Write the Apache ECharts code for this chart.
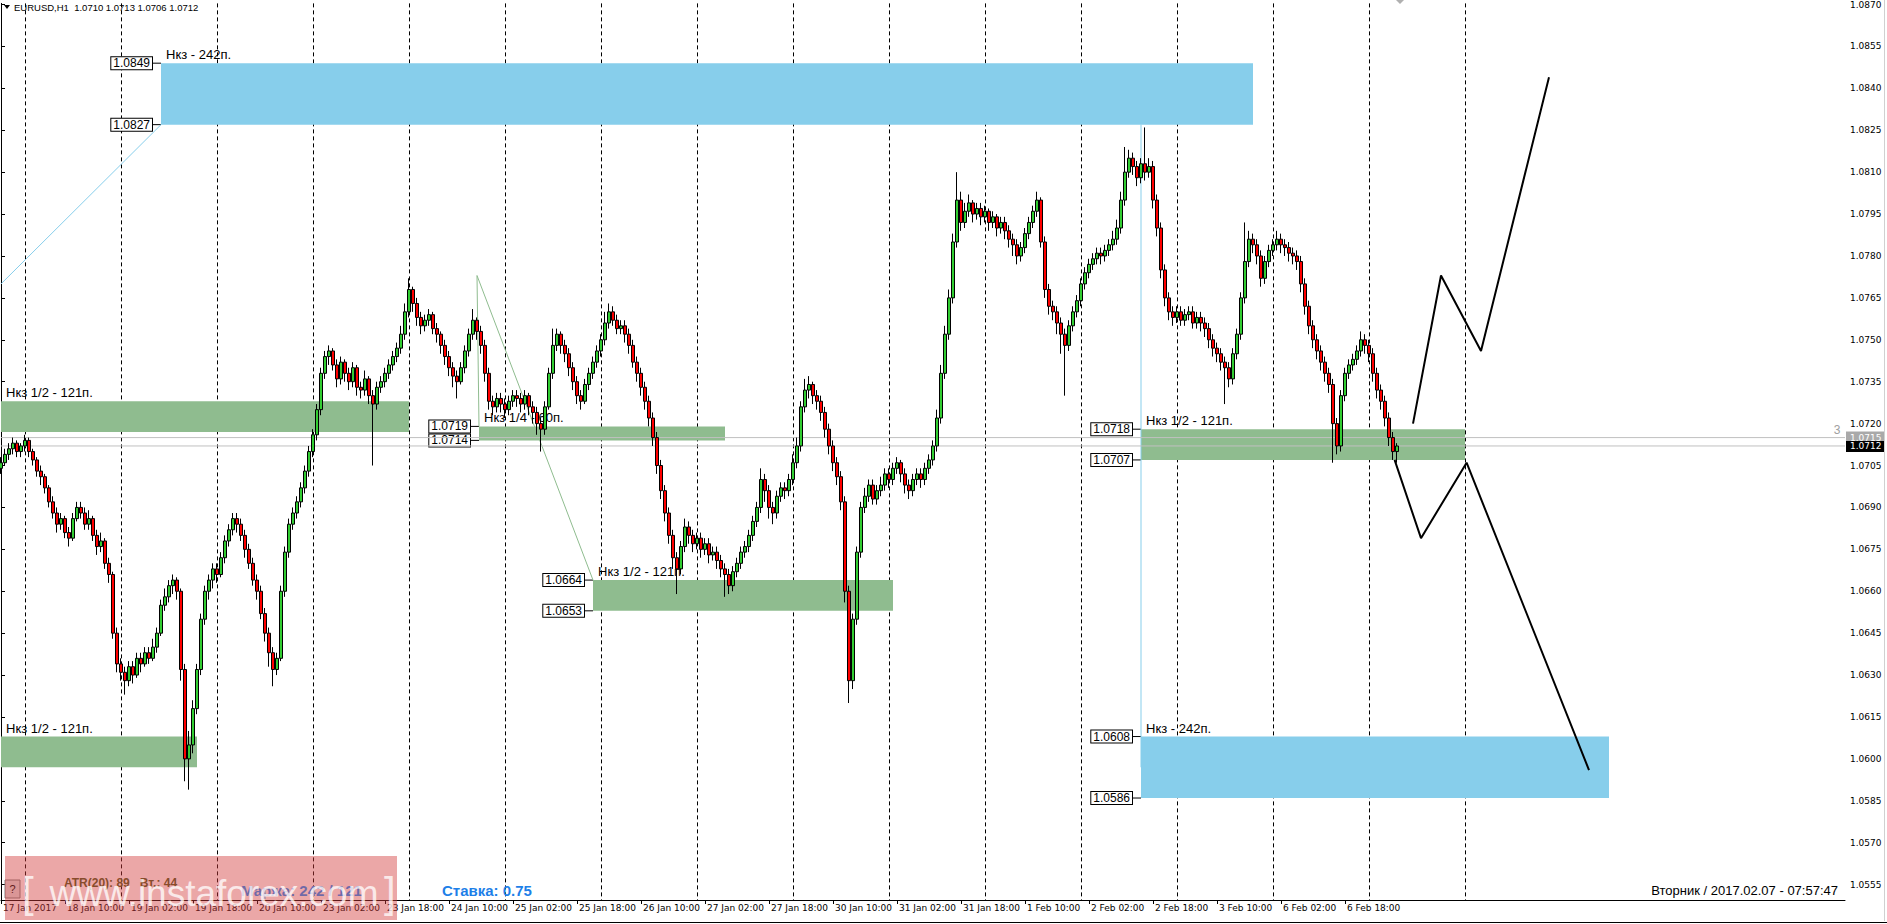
<!DOCTYPE html>
<html><head><meta charset="utf-8">
<script src="https://cdn.jsdelivr.net/npm/echarts@6/dist/echarts.min.js"></script>
<style>html,body{margin:0;padding:0;background:#fff;overflow:hidden}#c{width:1887px;height:924px}</style>
</head><body><div id="c"></div>
<script>
// ---------- DATA ----------
const days = ['17 Jan','18 Jan','19 Jan','20 Jan','23 Jan','24 Jan','25 Jan','26 Jan','27 Jan','30 Jan','31 Jan','1 Feb','2 Feb','3 Feb','6 Feb','7 Feb','8 Feb','9 Feb','10 Feb','13 Feb'];
const gridDays = ['18 Jan','19 Jan','20 Jan','23 Jan','24 Jan','25 Jan','26 Jan','27 Jan','30 Jan','31 Jan','1 Feb','2 Feb','3 Feb','6 Feb','7 Feb','8 Feb'];
const xTickLabels = ['17 Jan 2017','18 Jan 10:00','19 Jan 02:00','19 Jan 18:00','20 Jan 10:00','23 Jan 02:00','23 Jan 18:00','24 Jan 10:00','25 Jan 02:00','25 Jan 18:00','26 Jan 10:00','27 Jan 02:00','27 Jan 18:00','30 Jan 10:00','31 Jan 02:00','31 Jan 18:00','1 Feb 10:00','2 Feb 02:00','2 Feb 18:00','3 Feb 10:00','6 Feb 02:00','6 Feb 18:00'];
const yTicks = [1.0555,1.0570,1.0585,1.0600,1.0615,1.0630,1.0645,1.0660,1.0675,1.0690,1.0705,1.0720,1.0735,1.0750,1.0765,1.0780,1.0795,1.0810,1.0825,1.0840,1.0855,1.0870];
const yMin = 1.05495, yMax = 1.08704;

// [open, close, low, high] per H1 bar, from 17 Jan 18:00
const candles = [
[1.0704,1.0706,1.0702,1.0708],[1.0706,1.0709,1.0705,1.0711],[1.0709,1.0711,1.0707,1.0713],[1.0711,1.0713,1.0709,1.0715],[1.0713,1.0710,1.0708,1.0714],
[1.0710,1.0712,1.0708,1.0713],[1.0712,1.0714,1.0710,1.0716],[1.0714,1.0710,1.0708,1.0715],[1.0710,1.0707,1.0705,1.0711],[1.0707,1.0703,1.0701,1.0708],
[1.0703,1.0701,1.0698,1.0705],[1.0701,1.0697,1.0695,1.0702],[1.0697,1.0692,1.0690,1.0698],[1.0692,1.0688,1.0686,1.0694],[1.0688,1.0684,1.0681,1.0690],
[1.0684,1.0686,1.0682,1.0688],[1.0686,1.0681,1.0679,1.0687],[1.0681,1.0679,1.0676,1.0683],[1.0679,1.0686,1.0678,1.0688],[1.0686,1.0690,1.0685,1.0692],
[1.0690,1.0688,1.0686,1.0692],[1.0688,1.0684,1.0682,1.0690],[1.0684,1.0686,1.0682,1.0689],[1.0686,1.0680,1.0678,1.0687],[1.0680,1.0676,1.0673,1.0682],
[1.0676,1.0678,1.0674,1.0681],[1.0678,1.0670,1.0668,1.0679],[1.0670,1.0666,1.0663,1.0672],[1.0666,1.0645,1.0643,1.0667],[1.0645,1.0634,1.0631,1.0647],
[1.0634,1.0631,1.0628,1.0636],[1.0631,1.0628,1.0623,1.0633],[1.0628,1.0633,1.0626,1.0635],[1.0633,1.0630,1.0627,1.0635],[1.0630,1.0636,1.0629,1.0638],
[1.0636,1.0634,1.0631,1.0638],[1.0634,1.0638,1.0633,1.0640],[1.0638,1.0636,1.0634,1.0640],[1.0636,1.0640,1.0635,1.0643],[1.0640,1.0645,1.0638,1.0647],
[1.0645,1.0655,1.0644,1.0657],[1.0655,1.0658,1.0653,1.0661],[1.0658,1.0662,1.0656,1.0664],[1.0662,1.0664,1.0659,1.0666],[1.0664,1.0660,1.0657,1.0665],
[1.0660,1.0632,1.0628,1.0661],[1.0632,1.0600,1.0592,1.0634],[1.0600,1.0605,1.0589,1.0610],[1.0605,1.0618,1.0602,1.0621],[1.0618,1.0632,1.0616,1.0634],
[1.0632,1.0650,1.0630,1.0652],[1.0650,1.0660,1.0648,1.0662],[1.0660,1.0664,1.0657,1.0666],[1.0664,1.0668,1.0661,1.0670],[1.0668,1.0666,1.0663,1.0670],
[1.0666,1.0672,1.0665,1.0674],[1.0672,1.0678,1.0670,1.0680],[1.0678,1.0682,1.0676,1.0684],[1.0682,1.0686,1.0680,1.0688],[1.0686,1.0684,1.0681,1.0688],
[1.0684,1.0680,1.0678,1.0686],[1.0680,1.0675,1.0672,1.0682],[1.0675,1.0670,1.0668,1.0677],[1.0670,1.0664,1.0662,1.0672],[1.0664,1.0660,1.0657,1.0666],
[1.0660,1.0652,1.0650,1.0662],[1.0652,1.0645,1.0642,1.0654],[1.0645,1.0638,1.0633,1.0647],[1.0638,1.0632,1.0626,1.0640],[1.0632,1.0636,1.0630,1.0638],
[1.0636,1.0660,1.0635,1.0662],[1.0660,1.0674,1.0658,1.0676],[1.0674,1.0684,1.0672,1.0686],[1.0684,1.0688,1.0682,1.0690],[1.0688,1.0692,1.0686,1.0694],
[1.0692,1.0697,1.0690,1.0699],[1.0697,1.0703,1.0695,1.0705],[1.0703,1.0710,1.0701,1.0712],[1.0710,1.0716,1.0708,1.0718],[1.0716,1.0725,1.0714,1.0727],
[1.0725,1.0738,1.0723,1.0740],[1.0738,1.0744,1.0736,1.0746],[1.0744,1.0746,1.0741,1.0748],[1.0746,1.0741,1.0739,1.0747],[1.0741,1.0736,1.0733,1.0743],
[1.0736,1.0742,1.0734,1.0744],[1.0742,1.0738,1.0735,1.0743],[1.0738,1.0735,1.0732,1.0740],[1.0735,1.0740,1.0733,1.0742],[1.0740,1.0733,1.0730,1.0741],
[1.0733,1.0732,1.0729,1.0735],[1.0732,1.0736,1.0730,1.0739],[1.0736,1.0730,1.0727,1.0737],[1.0730,1.0727,1.0705,1.0732],[1.0727,1.0733,1.0725,1.0735],
[1.0733,1.0735,1.0731,1.0737],[1.0735,1.0738,1.0733,1.0740],[1.0738,1.0741,1.0736,1.0743],[1.0741,1.0744,1.0739,1.0746],[1.0744,1.0747,1.0742,1.0749],
[1.0747,1.0752,1.0745,1.0755],[1.0752,1.0760,1.0750,1.0763],[1.0760,1.0768,1.0758,1.0772],[1.0768,1.0763,1.0760,1.0769],[1.0763,1.0758,1.0755,1.0765],
[1.0758,1.0755,1.0752,1.0760],[1.0755,1.0757,1.0753,1.0759],[1.0757,1.0759,1.0755,1.0761],[1.0759,1.0754,1.0752,1.0760],[1.0754,1.0752,1.0749,1.0756],
[1.0752,1.0748,1.0745,1.0753],[1.0748,1.0744,1.0741,1.0750],[1.0744,1.0740,1.0737,1.0746],[1.0740,1.0737,1.0733,1.0742],[1.0737,1.0735,1.0729,1.0739],
[1.0735,1.0740,1.0734,1.0742],[1.0740,1.0746,1.0738,1.0748],[1.0746,1.0752,1.0744,1.0754],[1.0752,1.0757,1.0750,1.0761],[1.0757,1.0753,1.0750,1.0758],
[1.0753,1.0748,1.0745,1.0755],[1.0748,1.0738,1.0735,1.0750],[1.0738,1.0728,1.0725,1.0740],[1.0728,1.0726,1.0723,1.0730],[1.0726,1.0729,1.0724,1.0731],
[1.0729,1.0727,1.0724,1.0731],[1.0727,1.0725,1.0722,1.0729],[1.0725,1.0728,1.0723,1.0730],[1.0728,1.0730,1.0726,1.0732],[1.0730,1.0729,1.0726,1.0732],
[1.0729,1.0727,1.0724,1.0731],[1.0727,1.0730,1.0725,1.0732],[1.0730,1.0726,1.0723,1.0731],[1.0726,1.0724,1.0720,1.0728],[1.0724,1.0720,1.0716,1.0726],
[1.0720,1.0718,1.0710,1.0722],[1.0718,1.0726,1.0716,1.0728],[1.0726,1.0738,1.0725,1.0740],[1.0738,1.0748,1.0736,1.0754],[1.0748,1.0752,1.0746,1.0754],
[1.0752,1.0748,1.0745,1.0753],[1.0748,1.0745,1.0742,1.0750],[1.0745,1.0740,1.0737,1.0747],[1.0740,1.0735,1.0732,1.0742],[1.0735,1.0730,1.0727,1.0737],
[1.0730,1.0728,1.0725,1.0732],[1.0728,1.0734,1.0727,1.0736],[1.0734,1.0738,1.0732,1.0740],[1.0738,1.0742,1.0736,1.0744],[1.0742,1.0746,1.0740,1.0748],
[1.0746,1.0750,1.0744,1.0752],[1.0750,1.0756,1.0748,1.0760],[1.0756,1.0760,1.0754,1.0763],[1.0760,1.0757,1.0755,1.0762],[1.0757,1.0754,1.0752,1.0759],
[1.0754,1.0755,1.0752,1.0757],[1.0755,1.0752,1.0749,1.0757],[1.0752,1.0748,1.0745,1.0754],[1.0748,1.0742,1.0740,1.0750],[1.0742,1.0738,1.0735,1.0744],
[1.0738,1.0733,1.0730,1.0740],[1.0733,1.0728,1.0725,1.0735],[1.0728,1.0722,1.0719,1.0730],[1.0722,1.0715,1.0712,1.0724],[1.0715,1.0705,1.0702,1.0717],
[1.0705,1.0696,1.0693,1.0707],[1.0696,1.0688,1.0685,1.0698],[1.0688,1.0680,1.0677,1.0690],[1.0680,1.0672,1.0668,1.0682],[1.0672,1.0668,1.0659,1.0674],
[1.0668,1.0676,1.0666,1.0678],[1.0676,1.0683,1.0674,1.0686],[1.0683,1.0680,1.0677,1.0685],[1.0680,1.0677,1.0674,1.0682],[1.0677,1.0679,1.0675,1.0681],
[1.0679,1.0675,1.0672,1.0681],[1.0675,1.0677,1.0673,1.0679],[1.0677,1.0673,1.0670,1.0679],[1.0673,1.0674,1.0671,1.0676],[1.0674,1.0671,1.0668,1.0676],
[1.0671,1.0668,1.0665,1.0673],[1.0668,1.0666,1.0658,1.0670],[1.0666,1.0662,1.0659,1.0668],[1.0662,1.0667,1.0660,1.0669],[1.0667,1.0670,1.0665,1.0672],
[1.0670,1.0674,1.0668,1.0676],[1.0674,1.0676,1.0672,1.0678],[1.0676,1.0680,1.0674,1.0682],[1.0680,1.0685,1.0678,1.0687],[1.0685,1.0690,1.0683,1.0692],
[1.0690,1.0700,1.0688,1.0704],[1.0700,1.0696,1.0692,1.0702],[1.0696,1.0690,1.0686,1.0698],[1.0690,1.0688,1.0684,1.0692],[1.0688,1.0694,1.0686,1.0696],
[1.0694,1.0697,1.0692,1.0699],[1.0697,1.0696,1.0693,1.0699],[1.0696,1.0700,1.0694,1.0702],[1.0700,1.0706,1.0698,1.0709],[1.0706,1.0712,1.0704,1.0715],
[1.0712,1.0726,1.0710,1.0728],[1.0726,1.0732,1.0724,1.0736],[1.0732,1.0734,1.0729,1.0737],[1.0734,1.0730,1.0727,1.0735],[1.0730,1.0728,1.0725,1.0732],
[1.0728,1.0724,1.0721,1.0730],[1.0724,1.0718,1.0715,1.0726],[1.0718,1.0712,1.0709,1.0720],[1.0712,1.0706,1.0703,1.0714],[1.0706,1.0701,1.0698,1.0708],
[1.0701,1.0692,1.0689,1.0703],[1.0692,1.0660,1.0656,1.0694],[1.0660,1.0628,1.0620,1.0662],[1.0628,1.0650,1.0625,1.0652],[1.0650,1.0674,1.0648,1.0676],
[1.0674,1.0690,1.0672,1.0692],[1.0690,1.0694,1.0688,1.0697],[1.0694,1.0698,1.0692,1.0700],[1.0698,1.0693,1.0691,1.0700],[1.0693,1.0696,1.0691,1.0698],
[1.0696,1.0698,1.0694,1.0701],[1.0698,1.0702,1.0696,1.0704],[1.0702,1.0700,1.0697,1.0704],[1.0700,1.0704,1.0698,1.0706],[1.0704,1.0706,1.0702,1.0708],
[1.0706,1.0702,1.0699,1.0707],[1.0702,1.0698,1.0695,1.0704],[1.0698,1.0696,1.0693,1.0700],[1.0696,1.0700,1.0694,1.0702],[1.0700,1.0702,1.0698,1.0704],
[1.0702,1.0700,1.0697,1.0704],[1.0700,1.0704,1.0698,1.0706],[1.0704,1.0707,1.0702,1.0709],[1.0707,1.0712,1.0705,1.0714],[1.0712,1.0722,1.0710,1.0725],
[1.0722,1.0738,1.0720,1.0741],[1.0738,1.0752,1.0736,1.0755],[1.0752,1.0765,1.0750,1.0768],[1.0765,1.0785,1.0763,1.0788],[1.0785,1.0800,1.0783,1.0810],
[1.0800,1.0792,1.0789,1.0803],[1.0792,1.0796,1.0790,1.0799],[1.0796,1.0799,1.0794,1.0802],[1.0799,1.0795,1.0792,1.0800],[1.0795,1.0797,1.0793,1.0799],
[1.0797,1.0794,1.0791,1.0799],[1.0794,1.0796,1.0792,1.0798],[1.0796,1.0792,1.0789,1.0797],[1.0792,1.0794,1.0790,1.0796],[1.0794,1.0790,1.0787,1.0795],
[1.0790,1.0792,1.0788,1.0794],[1.0792,1.0789,1.0786,1.0794],[1.0789,1.0786,1.0783,1.0791],[1.0786,1.0784,1.0780,1.0788],[1.0784,1.0780,1.0777,1.0786],
[1.0780,1.0783,1.0778,1.0785],[1.0783,1.0788,1.0781,1.0790],[1.0788,1.0792,1.0786,1.0794],[1.0792,1.0796,1.0790,1.0798],[1.0796,1.0800,1.0794,1.0803],
[1.0800,1.0785,1.0783,1.0801],[1.0785,1.0768,1.0765,1.0787],[1.0768,1.0762,1.0759,1.0770],[1.0762,1.0760,1.0757,1.0764],[1.0760,1.0756,1.0752,1.0762],
[1.0756,1.0752,1.0745,1.0758],[1.0752,1.0748,1.0730,1.0754],[1.0748,1.0755,1.0746,1.0757],[1.0755,1.0760,1.0753,1.0762],[1.0760,1.0764,1.0758,1.0766],
[1.0764,1.0770,1.0762,1.0772],[1.0770,1.0774,1.0768,1.0776],[1.0774,1.0777,1.0772,1.0779],[1.0777,1.0779,1.0775,1.0781],[1.0779,1.0781,1.0777,1.0783],
[1.0781,1.0780,1.0777,1.0783],[1.0780,1.0782,1.0778,1.0784],[1.0782,1.0784,1.0780,1.0786],[1.0784,1.0786,1.0782,1.0789],[1.0786,1.0790,1.0784,1.0793],
[1.0790,1.0800,1.0788,1.0803],[1.0800,1.0810,1.0798,1.0819],[1.0810,1.0815,1.0808,1.0818],[1.0815,1.0812,1.0809,1.0817],[1.0812,1.0808,1.0805,1.0814],
[1.0808,1.0813,1.0806,1.0815],[1.0813,1.0810,1.0807,1.0826],[1.0810,1.0812,1.0808,1.0815],[1.0812,1.0800,1.0797,1.0814],[1.0800,1.0790,1.0787,1.0802],
[1.0790,1.0775,1.0772,1.0792],[1.0775,1.0765,1.0762,1.0777],[1.0765,1.0760,1.0757,1.0767],[1.0760,1.0758,1.0755,1.0762],[1.0758,1.0760,1.0756,1.0762],
[1.0760,1.0757,1.0755,1.0762],[1.0757,1.0759,1.0755,1.0761],[1.0759,1.0760,1.0757,1.0762],[1.0760,1.0756,1.0754,1.0762],[1.0756,1.0758,1.0754,1.0760],
[1.0758,1.0756,1.0753,1.0760],[1.0756,1.0754,1.0751,1.0758],[1.0754,1.0750,1.0747,1.0756],[1.0750,1.0747,1.0744,1.0752],[1.0747,1.0745,1.0742,1.0749],
[1.0745,1.0742,1.0739,1.0747],[1.0742,1.0740,1.0727,1.0744],[1.0740,1.0736,1.0733,1.0742],[1.0736,1.0745,1.0734,1.0747],[1.0745,1.0752,1.0743,1.0754],
[1.0752,1.0765,1.0750,1.0767],[1.0765,1.0778,1.0763,1.0792],[1.0778,1.0786,1.0776,1.0789],[1.0786,1.0784,1.0781,1.0788],[1.0784,1.0780,1.0777,1.0786],
[1.0780,1.0772,1.0769,1.0782],[1.0772,1.0778,1.0770,1.0780],[1.0778,1.0782,1.0776,1.0784],[1.0782,1.0784,1.0780,1.0786],[1.0784,1.0786,1.0782,1.0789],
[1.0786,1.0784,1.0781,1.0788],[1.0784,1.0783,1.0780,1.0786],[1.0783,1.0781,1.0778,1.0785],[1.0781,1.0780,1.0777,1.0783],[1.0780,1.0778,1.0775,1.0782],
[1.0778,1.0770,1.0767,1.0780],[1.0770,1.0762,1.0759,1.0772],[1.0762,1.0755,1.0752,1.0764],[1.0755,1.0750,1.0747,1.0757],[1.0750,1.0746,1.0743,1.0752],
[1.0746,1.0742,1.0739,1.0748],[1.0742,1.0738,1.0735,1.0744],[1.0738,1.0734,1.0731,1.0740],[1.0734,1.0720,1.0706,1.0736],[1.0720,1.0712,1.0709,1.0722],
[1.0712,1.0730,1.0710,1.0732],[1.0730,1.0738,1.0728,1.0740],[1.0738,1.0741,1.0736,1.0743],[1.0741,1.0743,1.0739,1.0745],[1.0743,1.0746,1.0741,1.0748],
[1.0746,1.0750,1.0744,1.0753],[1.0750,1.0748,1.0745,1.0752],[1.0748,1.0745,1.0742,1.0750],[1.0745,1.0738,1.0735,1.0747],[1.0738,1.0732,1.0729,1.0740],
[1.0732,1.0728,1.0725,1.0734],[1.0728,1.0722,1.0719,1.0730],[1.0722,1.0715,1.0712,1.0724],[1.0715,1.0710,1.0707,1.0717],[1.0710,1.0712,1.0706,1.0713]
];

// zones: bar index start/end, top/bottom price
const zoneStart  = [40, -30, -30, 119.5, 148, 285, 285];
const zoneEnd    = [313, 102, 49, 181, 223, 366, 402];
const zoneTop    = [1.0849, 1.0728, 1.0608, 1.0719, 1.0664, 1.0718, 1.0608];
const zoneBottom = [1.0827, 1.0717, 1.0597, 1.0714, 1.0653, 1.0707, 1.0586];
const zoneTitles = ['Нкз - 242п.','Нкз 1/2 - 121п.','Нкз 1/2 - 121п.','Нкз 1/4 - 60п.','Нкз 1/2 - 121п.','Нкз 1/2 - 121п.','Нкз - 242п.'];
const zoneTagged = [true, false, false, true, true, true, true];

// drawn lines (bar index, price)
const trendBlue = [[0, 1.0770], [40, 1.0827]];
const vertBlue = [[285, 1.0827], [285, 1.0597]];
const greenDiag = [[119, 1.0773], [148, 1.0664]];
const greenVert = [[119, 1.0773], [119.5, 1.0719]];
const projUp = [[353, 1.0720], [360, 1.0773], [370, 1.0746], [387, 1.0844]];
const projDown = [[348.4, 1.0707], [355, 1.0679], [366.4, 1.0706], [397, 1.0596]];
const askPrice = 1.0715, bidPrice = 1.0712;
const headerQuote = 'EURUSD,H1  1.0710 1.0713 1.0706 1.0712';

// ---------- BUILD ----------
const barCount = 462;
const categories = [];
for (let d = 0; d < days.length && categories.length < barCount; d++) {
  for (let h = (d === 0 ? 18 : 0); h < 24 && categories.length < barCount; h++) {
    categories.push(days[d] + ' ' + String(h).padStart(2, '0') + ':00');
  }
}
const gridSet = new Set(gridDays.map(d => d + ' 00:00'));
const labelSet = new Set(xTickLabels);
const showLabel = (i, v) => i === 0 || labelSet.has(v);

const zoneData = zoneStart.map((s, i) => [s, zoneEnd[i], zoneTop[i], zoneBottom[i]]);
const F = 'DejaVu Sans';
const FA = 'Liberation Sans';

function renderZone(params, api) {
  const i = params.dataIndex;
  const cs = params.coordSys;
  const a = api.coord([api.value(0), api.value(2)]);
  const b = api.coord([api.value(1), api.value(3)]);
  const big = (api.value(2) - api.value(3)) > 0.0015;
  const x0 = Math.max(a[0], cs.x);
  const children = [{
    type: 'rect', shape: {x: x0, y: a[1], width: b[0] - x0, height: b[1] - a[1]},
    style: {fill: big ? '#87ceeb' : '#8fbc8f'}
  }, {
    type: 'text', style: {text: zoneTitles[i], x: x0 + 5, y: a[1] - 2, fill: '#000', font: '13px ' + FA, align: 'left', verticalAlign: 'bottom'}
  }];
  if (zoneTagged[i]) {
    [[a[1], api.value(2)], [b[1], api.value(3)]].forEach(([y, p]) => {
      children.push({type: 'line', shape: {x1: a[0] - 9, y1: y, x2: a[0], y2: y}, style: {stroke: '#000', lineWidth: 1}});
      children.push({type: 'text', style: {text: p.toFixed(4), x: a[0] - 9, y: y, fill: '#000', font: '12px ' + FA,
        align: 'right', verticalAlign: 'middle', backgroundColor: '#fff', borderColor: '#000', borderWidth: 1, padding: [0, 2, 0, 2]}});
    });
  }
  return {type: 'group', children};
}

function renderTags(params, api) {
  const cs = params.coordSys;
  const ya = api.coord([0, askPrice])[1];
  const yb = api.coord([0, bidPrice])[1];
  const xr = cs.x + cs.width;
  return {type: 'group', children: [
    {type: 'text', style: {text: '3', x: xr - 8, y: ya - 8, fill: '#a0a0a0', font: '12px ' + FA, align: 'center', verticalAlign: 'middle'}},
    {type: 'rect', shape: {x: xr + 1, y: ya - 6, width: 38, height: 11}, style: {fill: '#a9a9a9'}},
    {type: 'text', style: {text: askPrice.toFixed(4), x: xr + 5, y: ya, fill: '#fff', font: '9px ' + F, verticalAlign: 'middle'}},
    {type: 'rect', shape: {x: xr + 1, y: yb - 5, width: 38, height: 11}, style: {fill: '#000'}},
    {type: 'text', style: {text: bidPrice.toFixed(4), x: xr + 5, y: yb + 0.5, fill: '#fff', font: '9px ' + F, verticalAlign: 'middle'}}
  ]};
}

function lineSeries(data, color, width, z) {
  return {type: 'line', xAxisIndex: 1, yAxisIndex: 0, data, symbol: 'none', silent: true, z,
    lineStyle: {color, width}, animation: false};
}

const chart = echarts.init(document.getElementById('c'), null, {renderer: 'svg'});
chart.setOption({
  animation: false,
  backgroundColor: '#fff',
  grid: {left: 0, right: 42, top: 0, bottom: 24, containLabel: false},
  xAxis: [{
    type: 'category', data: categories, boundaryGap: false,
    axisLine: {show: true, lineStyle: {color: '#000', width: 1}},
    axisTick: {show: true, interval: showLabel, length: 4, lineStyle: {color: '#000'}},
    axisLabel: {interval: showLabel, formatter: (v, i) => i === 0 ? xTickLabels[0] : v,
      align: 'left', margin: 3, padding: [0, 0, 0, 2], color: '#000', fontSize: 9, fontFamily: F},
    splitLine: {show: true, interval: (i, v) => gridSet.has(v), lineStyle: {color: '#000', type: [4, 3], width: 1}}
  }, {
    type: 'value', min: 0, max: barCount - 1, show: false
  }],
  yAxis: [{
    type: 'value', position: 'right', min: yMin, max: yMax,
    axisLine: {show: true, lineStyle: {color: '#000', width: 1}},
    axisTick: {show: true, customValues: yTicks, length: 4, lineStyle: {color: '#000'}},
    axisLabel: {customValues: yTicks, formatter: v => v.toFixed(4), color: '#000', fontSize: 9, fontFamily: F, margin: 5},
    splitLine: {show: false}
  }],
  series: [
    {type: 'custom', xAxisIndex: 1, yAxisIndex: 0, data: zoneData, renderItem: renderZone, z: 1, silent: true,
      encode: {x: [0, 1], y: [2, 3]}, clip: true},
    lineSeries(trendBlue, '#87ceeb', 1, 2),
    lineSeries(vertBlue, '#87ceeb', 1, 2),
    lineSeries(greenDiag, '#8fbc8f', 1, 2),
    lineSeries(greenVert, '#8fbc8f', 1, 2),
    lineSeries([[0, askPrice], [barCount - 1, askPrice]], '#c0c0c0', 1, 2),
    lineSeries([[0, bidPrice], [barCount - 1, bidPrice]], '#c0c0c0', 1, 2),
    {type: 'candlestick', xAxisIndex: 0, yAxisIndex: 0, data: candles, barWidth: 3, z: 3, silent: true,
      itemStyle: {color: '#32cd32', color0: '#ff0000', borderColor: '#000', borderColor0: '#000', borderWidth: 1}},
    lineSeries(projUp, '#000', 2, 4),
    lineSeries(projDown, '#000', 2, 4),
    {type: 'custom', xAxisIndex: 1, yAxisIndex: 0, data: [[0, bidPrice]], renderItem: renderTags, z: 6, silent: true, clip: false}
  ],
  graphic: [
    {type: 'polygon', shape: {points: [[4, 5], [10, 5], [7, 9]]}, style: {fill: '#000'}, z: 50},
    {type: 'text', x: 14, y: 7, style: {text: headerQuote, fill: '#000', font: '9.5px ' + FA, verticalAlign: 'middle'}, z: 50},
    {type: 'polygon', shape: {points: [[1396, 0], [1404, 0], [1400, 4]]}, style: {fill: '#b0b0b0'}, z: 50},
    {type: 'text', x: 1838, y: 890, style: {text: 'Вторник / 2017.02.07 - 07:57:47', fill: '#000', font: '13px ' + FA, align: 'right', verticalAlign: 'middle'}, z: 50},
    {type: 'text', x: 64, y: 883, style: {text: 'ATR(20): 89   Вт.: 44', fill: '#4a5a20', font: 'bold 12px ' + FA, verticalAlign: 'middle'}, z: 50},
    {type: 'text', x: 241, y: 890, style: {text: 'Маржа: 242 / 121', fill: '#1e90ff', font: 'bold 15px ' + FA, verticalAlign: 'middle'}, z: 50},
    {type: 'text', x: 442, y: 890, style: {text: 'Ставка: 0.75', fill: '#1e7fe8', font: 'bold 15px ' + FA, verticalAlign: 'middle'}, z: 50},
    {type: 'rect', shape: {x: 5, y: 880, width: 15, height: 18}, style: {fill: '#e0e0e0', stroke: '#808080', lineWidth: 1}, z: 51},
    {type: 'text', x: 12.5, y: 889, style: {text: '?', fill: '#000', font: '11px ' + FA, align: 'center', verticalAlign: 'middle'}, z: 52},
    {type: 'rect', shape: {x: 5, y: 856, width: 392, height: 64}, style: {fill: 'rgba(210,60,60,0.45)'}, z: 60},
    {type: 'text', x: 22, y: 892, style: {text: '[', fill: 'rgba(255,255,255,0.75)', font: '42px ' + FA, verticalAlign: 'middle'}, z: 70},
    {type: 'text', x: 214, y: 893, style: {text: 'www.instaforex.com', fill: 'rgba(255,255,255,0.75)', font: '37px ' + FA, align: 'center', verticalAlign: 'middle'}, z: 70},
    {type: 'text', x: 384, y: 892, style: {text: ']', fill: 'rgba(255,255,255,0.75)', font: '42px ' + FA, verticalAlign: 'middle'}, z: 70},
    {type: 'line', shape: {x1: 1884.5, y1: 0, x2: 1884.5, y2: 921}, style: {stroke: '#d0d0d0', lineWidth: 1}, z: 50},
    {type: 'line', shape: {x1: 0, y1: 922.5, x2: 1887, y2: 922.5}, style: {stroke: '#000', lineWidth: 1}, z: 50}
  ]
});
</script></body></html>
